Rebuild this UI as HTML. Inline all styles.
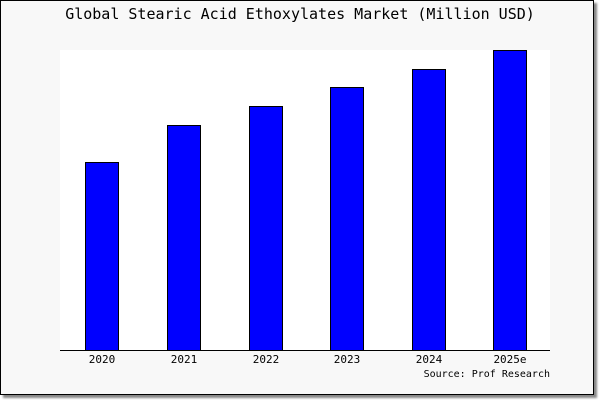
<!DOCTYPE html>
<html><head><style>
body{margin:0;width:600px;height:400px;background:#fff;position:relative;overflow:hidden;font-family:"DejaVu Sans Mono","Liberation Mono",monospace;}
.frame{position:absolute;left:0;top:0;width:592px;height:393px;border:1px solid #000;background:#f8f8f8;box-shadow:3px 3px 2px #888;}
.t{position:absolute;left:0;width:600px;text-align:center;top:5px;font-size:15px;color:#000;}
.plot{position:absolute;left:60px;top:50px;width:490px;height:300px;background:#fff;border-bottom:1px solid #000;}
.bar{position:absolute;background:#0000ff;border:1px solid #000;box-sizing:border-box;width:34px;}
.l{position:absolute;top:353px;font-size:11px;width:60px;text-align:center;}
.s{position:absolute;right:50px;top:369px;font-size:10px;}
</style></head><body>
<div class="frame"></div>
<div class="t">Global Stearic Acid Ethoxylates Market (Million USD)</div>
<div class="plot"></div>
<div class="bar" style="left:85px;top:162px;height:189px"></div>
<div class="bar" style="left:167px;top:125px;height:226px"></div>
<div class="bar" style="left:249px;top:106px;height:245px"></div>
<div class="bar" style="left:330px;top:87px;height:264px"></div>
<div class="bar" style="left:412px;top:69px;height:282px"></div>
<div class="bar" style="left:493px;top:50px;height:301px"></div>
<div class="l" style="left:72px">2020</div>
<div class="l" style="left:154px">2021</div>
<div class="l" style="left:236px">2022</div>
<div class="l" style="left:317px">2023</div>
<div class="l" style="left:399px">2024</div>
<div class="l" style="left:480px">2025e</div>
<div class="s">Source: Prof Research</div>
</body></html>
